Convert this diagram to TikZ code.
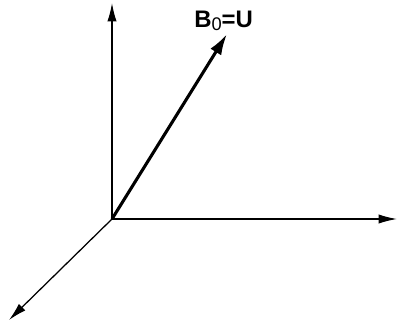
\documentclass[tikz,border=0pt]{standalone}
\usepackage{fontspec}
\setmainfont{Liberation Sans}
\usetikzlibrary{arrows.meta}

\begin{document}
\begin{tikzpicture}[x=0.025cm, y=-0.025cm, font=\fontsize{17}{20}\selectfont\bfseries]
  \useasboundingbox (0,0) rectangle (398,322);
  \tikzset{axis/.style={line width=0.9pt, -{Latex[length=13pt, width=6.5pt]}},
           vec/.style={line width=2.2pt, -{Latex[length=15pt, width=9pt]}}}
  \coordinate (O) at (112,219);
  \coordinate (zend) at (112,3);
  \coordinate (xend) at (397,219);
  \coordinate (yend) at (9,320);
  \coordinate (Bend) at (227,34);
  \draw[axis] (O) -- (zend);
  \draw[axis] (O) -- (xend);
  \draw[axis] (O) -- (yend);
  \draw[vec] (O) -- (Bend);
  \node[anchor=base west, inner sep=0pt] (Blabel) at (194,27)
    {B\raisebox{-0.3ex}{\fontsize{13}{14}\selectfont\mdseries 0}=U};
\end{tikzpicture}
\end{document}
